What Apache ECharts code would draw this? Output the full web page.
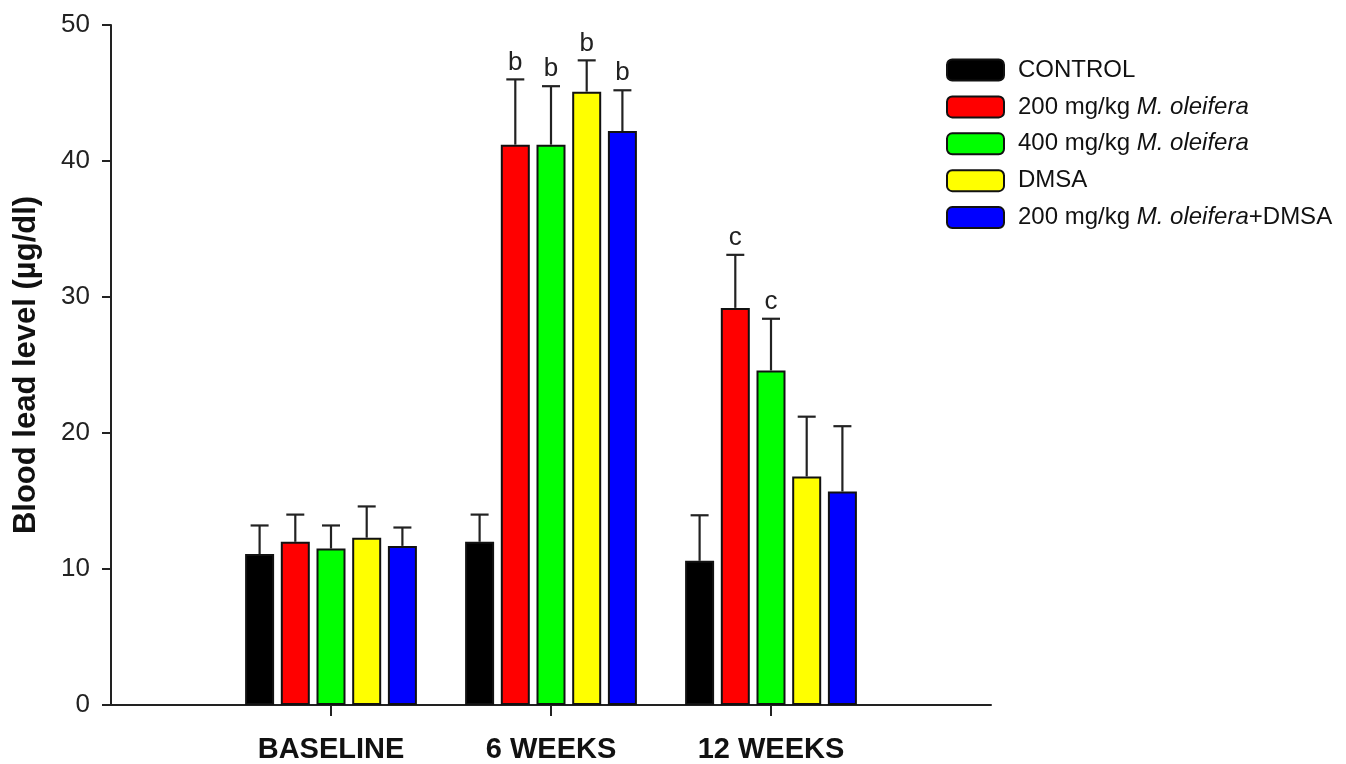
<!DOCTYPE html>
<html>
<head>
<meta charset="utf-8">
<title>Blood lead level</title>
<script src="https://cdn.jsdelivr.net/npm/echarts@6/dist/echarts.min.js"></script>
<style>
  html, body { margin: 0; padding: 0; background: #fff; }
  #chart { width: 1346px; height: 764px; }
</style>
</head>
<body>
<div id="chart"></div>
<script>
const categories = ['BASELINE', '6 WEEKS', '12 WEEKS']
const seriesNames = ['CONTROL', '200 mg/kg M. oleifera', '400 mg/kg M. oleifera', 'DMSA', '200 mg/kg M. oleifera+DMSA']

const control = [11.1, 12.0, 10.6]
const controlErr = [2.1, 2.0, 3.35]
const moringa200 = [12.0, 41.2, 29.2]
const moringa200Err = [2.0, 4.8, 3.9]
const moringa400 = [11.5, 41.2, 24.6]
const moringa400Err = [1.7, 4.3, 3.8]
const dmsa = [12.3, 45.1, 16.8]
const dmsaErr = [2.3, 2.3, 4.4]
const combo = [11.7, 42.2, 15.7]
const comboErr = [1.35, 3.0, 4.8]

// significance letters above error bars
const letters = [
  ['', '', ''],
  ['', 'b', 'c'],
  ['', 'b', 'c'],
  ['', 'b', ''],
  ['', 'b', '']
]

const yTicks = [0, 10, 20, 30, 40, 50]

const values = [control, moringa200, moringa400, dmsa, combo]
const errors = [controlErr, moringa200Err, moringa400Err, dmsaErr, comboErr]
const colors = ['#000000', '#ff0000', '#00ff00', '#ffff00', '#0000ff']

const FONT = '"Liberation Sans", Arial, sans-serif'
const BAR_W = 29
const BAR_PITCH = 35.7

// padded axis: empty slot at each end so groups sit at 1/4, 2/4, 3/4
const axisCats = [''].concat(categories).concat([''])

const chart = echarts.init(document.getElementById('chart'))

function errorRender (s) {
  return function (params, api) {
    const i = api.value(0)
    const v = api.value(1)
    const e = api.value(2)
    const x = api.coord([i, 0])[0] + (s - 2) * BAR_PITCH
    const y0 = api.coord([i, v])[1]
    const y1 = api.coord([i, v + e])[1]
    const style = { stroke: '#222', lineWidth: 2.2 }
    const children = [
      { type: 'line', shape: { x1: x, y1: y0, x2: x, y2: y1 }, style: style },
      { type: 'line', shape: { x1: x - 9, y1: y1, x2: x + 9, y2: y1 }, style: style }
    ]
    const txt = letters[s][params.dataIndex]
    if (txt) {
      children.push({
        type: 'text',
        style: {
          text: txt, x: x, y: y1 - 4, align: 'center', verticalAlign: 'bottom',
          fill: '#222', fontSize: 26, fontFamily: FONT
        }
      })
    }
    return { type: 'group', children: children }
  }
}

const series = []
values.forEach(function (arr, s) {
  series.push({
    name: seriesNames[s],
    type: 'bar',
    barWidth: BAR_W,
    barGap: ((BAR_PITCH - BAR_W) / BAR_W * 100).toFixed(1) + '%',
    itemStyle: { color: colors[s], borderColor: '#111', borderWidth: 2 },
    data: ['-'].concat(arr).concat(['-']),
    z: 2
  })
})
values.forEach(function (arr, s) {
  series.push({
    type: 'custom',
    renderItem: errorRender(s),
    encode: { x: 0, y: 1 },
    data: arr.map(function (v, k) { return [k + 1, v, errors[s][k]] }),
    z: 3,
    silent: true
  })
})

function legendLabel (name) {
  const idx = name.indexOf('M. oleifera')
  if (idx < 0) return '{n|' + name + '}'
  return '{n|' + name.slice(0, idx) + '}{i|M. oleifera}{n|' + name.slice(idx + 11) + '}'
}

chart.setOption({
  backgroundColor: '#ffffff',
  animation: false,
  color: colors,
  grid: { left: 111, right: 355, top: 25, bottom: 59 },
  legend: {
    data: seriesNames,
    orient: 'vertical',
    left: 946,
    top: 58,
    padding: 0,
    itemWidth: 57,
    itemHeight: 21,
    itemGap: 12.9,
    icon: 'roundRect',
    itemStyle: { borderColor: '#111', borderWidth: 2 },
    formatter: legendLabel,
    textStyle: {
      padding: [0, 0, 0, 9],
      rich: {
        n: { fontSize: 24, fontFamily: FONT, color: '#111' },
        i: { fontSize: 24, fontFamily: FONT, color: '#111', fontStyle: 'italic' }
      }
    }
  },
  xAxis: {
    type: 'category',
    data: axisCats,
    boundaryGap: false,
    axisLine: { lineStyle: { color: '#222', width: 2 } },
    axisTick: {
      length: 11,
      interval: function (idx) { return idx >= 1 && idx <= categories.length },
      lineStyle: { color: '#222', width: 2 }
    },
    axisLabel: {
      interval: 0,
      margin: 30,
      fontSize: 29,
      fontWeight: 'bold',
      fontFamily: FONT,
      color: '#111'
    },
    splitLine: { show: false }
  },
  yAxis: {
    type: 'value',
    min: yTicks[0],
    max: yTicks[yTicks.length - 1],
    interval: yTicks[1] - yTicks[0],
    name: 'Blood lead level (µg/dl)',
    nameLocation: 'middle',
    nameGap: 69,
    nameTextStyle: { fontSize: 31, fontWeight: 'bold', fontFamily: FONT, color: '#111' },
    axisLine: { show: true, lineStyle: { color: '#222', width: 2 } },
    axisTick: { show: true, length: 9, lineStyle: { color: '#222', width: 2 } },
    axisLabel: { margin: 21, fontSize: 26, fontFamily: FONT, color: '#222' },
    splitLine: { show: false }
  },
  series: series
})
</script>
</body>
</html>
